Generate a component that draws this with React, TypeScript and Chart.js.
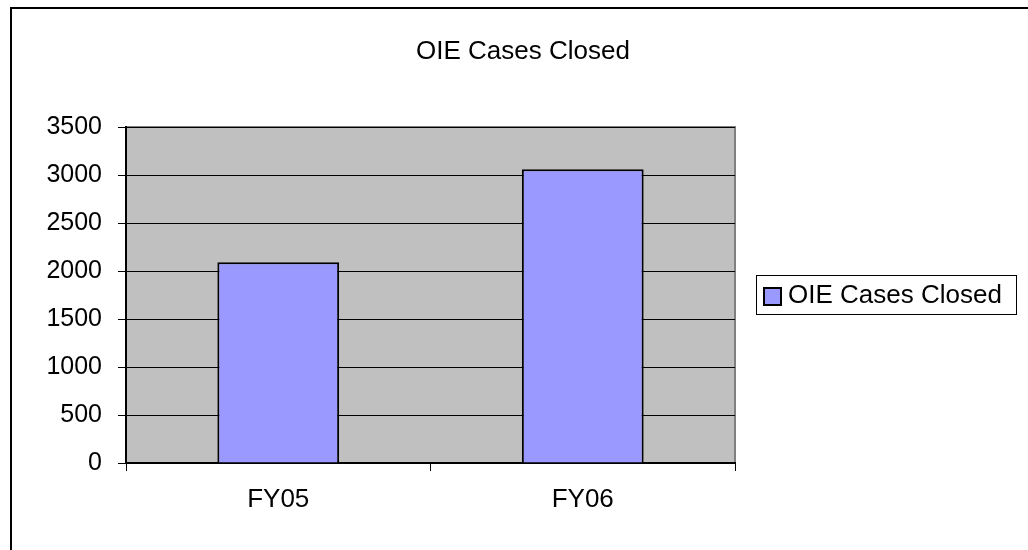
import React, { useEffect, useRef } from "react";
import { Chart, registerables } from "chart.js";

Chart.register(...registerables);

const title = "OIE Cases Closed";
const seriesLabel = "OIE Cases Closed";
const categories = ["FY05", "FY06"];
const casesClosed = [2090, 3060];
const yMin = 0;
const yMax = 3500;
const yStep = 500;

const FONT = "'Liberation Sans', Arial, sans-serif";

const decorPlugin = {
  id: "decor",
  beforeDraw(chart: any) {
    const { ctx, chartArea } = chart;
    ctx.save();
    ctx.fillStyle = "#ffffff";
    ctx.fillRect(0, 0, chart.width, chart.height);
    // outer frame (top and left visible)
    ctx.fillStyle = "#000000";
    ctx.fillRect(10, 7, chart.width - 10, 2);
    ctx.fillRect(10, 7, 2, chart.height - 7);
    // plot area
    ctx.fillStyle = "#C0C0C0";
    ctx.fillRect(chartArea.left, chartArea.top, chartArea.right - chartArea.left, chartArea.bottom - chartArea.top);
    ctx.strokeStyle = "#808080";
    ctx.lineWidth = 2;
    ctx.strokeRect(chartArea.left, chartArea.top, chartArea.right - chartArea.left, chartArea.bottom - chartArea.top);
    // title
    ctx.fillStyle = "#000000";
    ctx.font = `26px ${FONT}`;
    ctx.textBaseline = "middle";
    ctx.textAlign = "center";
    ctx.fillText(chart.options.plugins.title.text, 523, 52);
    ctx.restore();
  },
  afterDraw(chart: any) {
    const { ctx } = chart;
    const ds = chart.data.datasets[0];
    ctx.save();
    // legend box
    const bx = 756.5, by = 275.5, bw = 260, bh = 39;
    ctx.fillStyle = "#ffffff";
    ctx.fillRect(bx, by, bw, bh);
    ctx.strokeStyle = "#000000";
    ctx.lineWidth = 1;
    ctx.strokeRect(bx, by, bw, bh);
    // swatch
    ctx.fillStyle = ds.backgroundColor;
    ctx.fillRect(764, 288, 17, 17);
    ctx.lineWidth = 2;
    ctx.strokeRect(764, 288, 17, 17);
    // text
    ctx.fillStyle = "#000000";
    ctx.font = `26px ${FONT}`;
    ctx.textBaseline = "middle";
    ctx.textAlign = "left";
    ctx.fillText(ds.label, 788, 296);
    ctx.restore();
  },
};

export default function App() {
  const ref = useRef<HTMLCanvasElement | null>(null);
  useEffect(() => {
    if (!ref.current) return;
    const chart = new Chart(ref.current, {
      type: "bar",
      data: {
        labels: categories,
        datasets: [
          {
            label: seriesLabel,
            data: casesClosed,
            backgroundColor: "#9999FF",
            borderColor: "#000000",
            borderWidth: 2,
            barPercentage: 0.4,
            categoryPercentage: 1,
          },
        ],
      },
      options: {
        animation: false,
        responsive: true,
        maintainAspectRatio: false,
        devicePixelRatio: 1,
        layout: { padding: { left: 0, right: 293, top: 127, bottom: 0 } },
        plugins: {
          legend: { display: false },
          tooltip: { enabled: false },
          title: {
            display: false,
            text: title,
          },
        },
        scales: {
          x: {
            afterFit: (s: any) => {
              s.height = 87;
            },
            grid: {
              display: true,
              offset: true,
              drawOnChartArea: false,
              drawTicks: true,
              tickLength: 8,
              color: "#000000",
              lineWidth: 1,
            },
            border: { display: true, color: "#000000", width: 2 },
            ticks: {
              color: "#000000",
              padding: 13,
              font: { family: FONT, size: 26 },
            },
          },
          y: {
            min: yMin,
            max: yMax,
            afterFit: (s: any) => {
              s.width = 126;
            },
            grid: {
              color: "#000000",
              lineWidth: 1,
              drawTicks: true,
              tickLength: 8,
            },
            border: { display: true, color: "#000000", width: 2 },
            ticks: {
              stepSize: yStep,
              color: "#000000",
              padding: 16,
              font: { family: FONT, size: 25 },
              callback: (v: any) => String(v),
            },
          },
        },
      },
      plugins: [decorPlugin],
    });
    return () => chart.destroy();
  }, []);
  return (
    <div style={{ position: "absolute", left: 0, top: 0, width: 1028, height: 550 }}>
      <canvas ref={ref} />
    </div>
  );
}
